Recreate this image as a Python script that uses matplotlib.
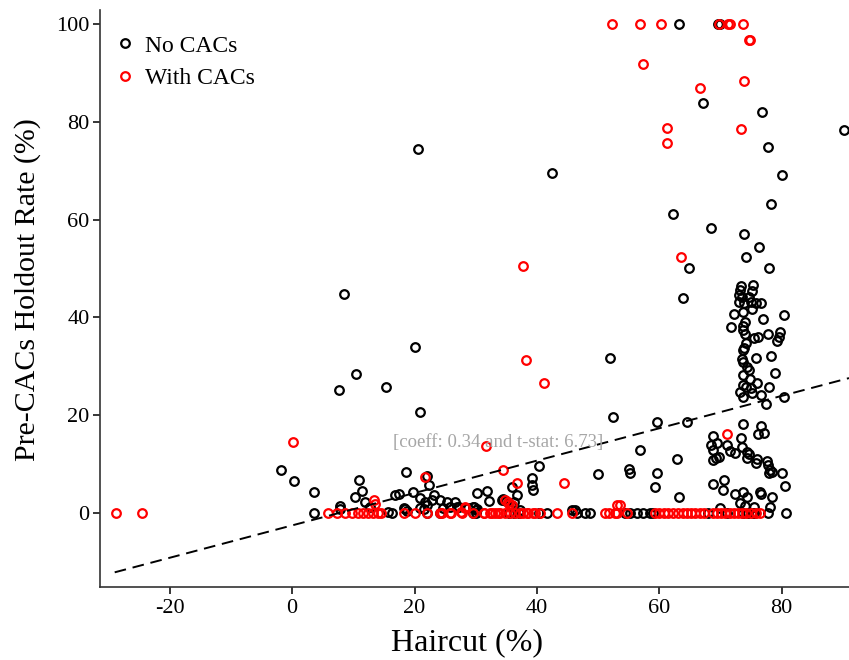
import matplotlib
matplotlib.use("Agg")
import matplotlib.pyplot as plt

plt.rcParams['font.family'] = ['Liberation Serif', 'DejaVu Serif']
plt.rcParams['axes.unicode_minus'] = False

# No CACs (black circles): haircut (%), pre-CACs holdout rate (%)
no_cac_x = [
    63.2, 69.6, 69.9, 90.2, 20.6, 42.5, 67.2, 76.8, 77.7, 80.0, 78.3, 62.3, 68.4, 73.8,
    76.3, 74.2, 64.9, 78.0, 63.8, 8.5, 20.0, 52.0, 10.4, 7.7, 15.4, 20.9, 52.5, 59.6, 64.6,
    # cluster 22-47
    73.3, 75.3, 73.2, 75.1, 73.1, 73.5, 74.6, 73.1, 73.9, 75.0, 75.8, 76.7, 73.7, 75.1,
    72.2, 80.3, 77.0, 71.7, 74.0, 73.7, 73.6, 74.0, 75.4, 76.2, 77.7, 79.8, 79.6, 79.3,
    74.2, 73.9, 73.6, 75.8, 78.2, 73.5, 73.7, 74.3, 74.6, 78.9, 73.6, 74.8, 73.7, 74.2,
    75.0, 75.9, 78.0, 73.2, 73.6, 75.1, 76.7, 77.4, 80.3,
    # cluster 0-18
    73.6, 76.7, 76.2, 77.1, 68.8, 73.3, 68.4, 69.4, 68.8, 71.1, 71.5, 72.4, 73.5, 74.3,
    74.7, 74.4, 68.7, 69.3, 69.8, 75.9, 75.8, 77.6, 77.7, 78.1, 78.4, 78.0, 80.0, 68.8,
    70.5, 70.4, 80.6, 72.4, 73.7, 74.3, 73.2, 76.5, 76.7, 78.4, 74.0, 75.4, 78.1, 69.9,
    77.8, 80.7,
    # middle
    56.9, 62.9, 55.0, 55.2, 59.7, 59.3, 63.3, 50.0,
    # left and low
    -1.8, 0.3, 3.5, 3.6, 7.8, 7.8, 11.0, 11.4, 10.3, 11.9, 12.7, 15.7, 16.3, 18.5, 18.2,
    18.7, 18.6, 22.0, 22.3, 16.8, 17.5, 19.7, 20.9, 21.7, 22.0, 23.1, 22.8, 24.2, 25.3,
    21.5, 22.0, 24.1, 25.8, 26.6, 20.9, 24.7, 27.0, 27.2, 28.8, 29.6, 30.2, 30.2, 31.9,
    32.1, 29.7, 30.1, 34.5, 34.3, 35.0, 35.9, 35.9, 36.7, 36.2, 39.2, 39.2, 39.3, 40.3,
    37.3, 35.4, 36.2, 37.0, 29.6, 30.1, 40.3, 41.6, 45.7, 46.2, 46.5, 47.9, 48.7, 55.2,
    56.3, 57.4, 58.5, 54.4, 59.0, 73.7, 74.5, 75.3, 75.6, 68.0, 71.0,
]
no_cac_y = [
    100, 100, 100, 78.3, 74.4, 69.6, 83.9, 82.0, 74.9, 69.2, 63.2, 61.1, 58.2, 57.1,
    54.4, 52.3, 50.0, 50.2, 44.0, 44.7, 33.9, 31.8, 28.4, 25.2, 25.7, 20.7, 19.6, 18.6, 18.7,
    46.4, 46.6, 45.6, 45.3, 44.6, 44.2, 44.1, 43.2, 43.0, 43.2, 43.0, 43.0, 41.2, 41.7,
    40.6, 40.5, 39.6, 38.1, 39.1, 38.2, 37.4, 36.7, 35.7, 36.1, 36.7, 37.1, 36.1, 35.2,
    34.7, 33.7, 33.3, 31.8, 32.1, 31.6, 30.9, 29.9, 29.2, 28.6, 28.2, 27.5, 26.2, 25.7,
    25.5, 26.5, 25.8, 24.8, 23.8, 24.6, 24.1, 22.4, 23.7,
    18.2, 17.8, 16.2, 16.3, 15.7, 15.3, 14.0, 14.3, 12.9, 14.0, 12.7, 12.2, 13.6, 12.5,
    12.1, 11.2, 10.8, 11.2, 11.5, 11.0, 10.2, 10.7, 9.8, 8.9, 8.4, 8.2, 8.2, 5.9,
    6.7, 4.8, 5.5, 3.9, 4.4, 3.2, 2.0, 4.4, 3.9, 3.3, 1.4, 1.3, 1.2, 1.0,
    0, 0,
    12.9, 11.0, 9.1, 8.2, 8.3, 5.4, 3.3, 8.0,
    8.8, 6.5, 4.4, 0, 1.4, 0.8, 6.7, 4.6, 3.3, 2.3, 1.3, 0.3, 0, 0.8, 1.0,
    0.5, 8.4, 7.6, 5.7, 3.7, 4.0, 4.4, 3.0, 2.3, 1.6, 3.7, 2.7, 2.7, 2.3,
    0.8, 0, 0, 1.2, 2.3, 1.0, 1.0, 1.3, 1.2, 1.0, 1.2, 0.8, 4.2, 4.6,
    2.5, 1.3, 0.6, 2.8, 2.7, 2.5, 1.4, 5.3, 3.7, 2.3, 7.1, 5.7, 4.8, 9.7,
    0.6, 0, 0, 0, 0, 0, 0, 0, 0.6, 0.6, 0, 0, 0, 0,
    0, 0, 0, 0, 0, 0, 0, 0, 0, 0, 0,
]

# With CACs (red circles)
cac_x = [
    52.2, 56.9, 60.3, 69.8, 71.3, 71.6, 73.6, 74.6, 74.9, 57.3, 73.9, 66.7, 61.3, 73.3,
    61.2, 63.6, 37.7, 38.2, 41.2, 71.1, 0.2, 31.7, 34.4, 21.7, 36.8, 44.4, 13.3, 13.5,
    34.8, 35.4, 35.3, 35.9, 53.5, 53.1, 28.3, 27.6, 28.3,
    # zero row
    -28.8, -24.6, 5.9, 7.3, 8.7, 9.8, 10.8, 11.6, 12.4, 13.2, 14.0, 14.6, 18.2, 20.1,
    22.0, 24.2, 24.5, 25.8, 26.0, 27.7, 29.6, 31.3, 31.4, 32.4, 32.6, 33.2, 33.7, 34.0,
    34.8, 35.6, 36.4, 37.2, 37.8, 38.4, 38.6, 39.4, 39.7, 40.5, 43.2, 45.7, 51.1, 51.7,
    52.8, 53.1, 54.7, 59.3, 60.0, 60.8, 61.5, 62.2, 63.0, 63.8, 64.5, 65.2, 65.9, 66.6,
    67.3, 68.7, 69.4, 70.1, 70.8, 71.5, 72.2, 72.9, 73.5, 74.2, 75.0, 75.8, 76.4,
]
cac_y = [
    100, 100, 100, 100, 100, 100, 100, 96.6, 96.6, 91.8, 88.4, 86.8, 78.8, 78.5,
    75.6, 52.4, 50.5, 31.3, 26.6, 16.1, 14.5, 13.7, 8.8, 7.3, 6.2, 6.2, 2.7, 1.8,
    2.7, 1.8, 2.3, 1.6, 1.6, 1.6, 1.2, 0.3, 1.0,
    0, 0, 0, 0, 0, 0, 0, 0, 0, 0, 0, 0, 0, 0,
    0, 0, 0, 0, 0, 0, 0, 0, 0, 0, 0, 0, 0, 0,
    0, 0, 0, 0, 0, 0, 0, 0, 0, 0, 0, 0, 0, 0,
    0, 0, 0, 0, 0, 0, 0, 0, 0, 0, 0, 0, 0, 0,
    0, 0, 0, 0, 0, 0, 0, 0, 0, 0, 0, 0, 0,
]

# fitted line end points
fit_x = [-29, 91]
fit_y = [-12.1, 27.6]
fit_label = "[coeff: 0.34 and t-stat: 6.73]"

x_ticks = [-20, 0, 20, 40, 60, 80]
y_ticks = [0, 20, 40, 60, 80, 100]

fig = plt.figure(figsize=(8.49, 6.6), dpi=100)
ax = fig.add_axes([0.1178, 0.1106, 0.8822, 0.874])

ax.plot(no_cac_x, no_cac_y, 'o', ms=6.2, mfc='none', mec='black', mew=1.6,
        label='No CACs', clip_on=False)
ax.plot(cac_x, cac_y, 'o', ms=6.2, mfc='none', mec='red', mew=1.6,
        label='With CACs', clip_on=False)
ax.plot(fit_x, fit_y, color='black', lw=1.4, dashes=(6, 3.5))
ax.text(33.7, 14.5, fit_label, color='#a6a6a6', fontsize=13.5,
        ha='center', va='center')

ax.set_xlim(-31.4, 91.0)
ax.set_ylim(-15.1, 102.8)
ax.set_xticks(x_ticks)
ax.set_yticks(y_ticks)
ax.tick_params(labelsize=16, direction='out', length=5, width=1.1, colors='black')
ax.tick_params(axis='y', pad=2.5)
for s in ['top', 'right']:
    ax.spines[s].set_visible(False)
for s in ['left', 'bottom']:
    ax.spines[s].set_linewidth(1.2)
    ax.spines[s].set_color('#333333')

ax.set_xlabel("Haircut (%)", fontsize=23)
ax.set_ylabel("Pre-CACs Holdout Rate (%)", fontsize=21.5)
ax.xaxis.set_label_coords(0.49, -0.071)
ax.yaxis.set_label_coords(-0.079, 0.515)

ax.legend(loc='upper left', frameon=False, fontsize=17, handlelength=1.0,
          handletextpad=0.35, labelspacing=0.47, borderaxespad=0.0,
          bbox_to_anchor=(0.005, 0.973))

fig.savefig("out.png", dpi=100)
